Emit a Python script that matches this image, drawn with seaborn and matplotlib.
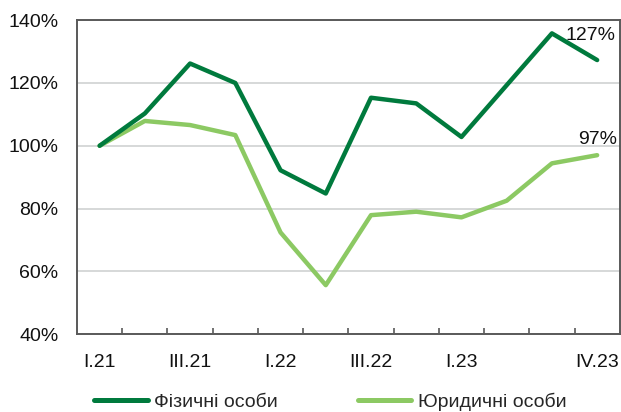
import numpy as np
import pandas as pd
import matplotlib
matplotlib.use("Agg")
import matplotlib.pyplot as plt
import seaborn as sns
from matplotlib.ticker import FixedLocator, PercentFormatter

# quarters I.21 .. IV.23
quarters = ["I.21", "II.21", "III.21", "IV.21", "I.22", "II.22",
            "III.22", "IV.22", "I.23", "II.23", "III.23", "IV.23"]
individuals = [100, 110.3, 126.2, 120.0, 92.2, 84.8, 115.3, 113.5, 102.8, 119.3, 135.8, 127.3]
legal_entities = [100, 107.9, 106.6, 103.4, 72.4, 55.6, 77.9, 79.0, 77.2, 82.5, 94.4, 97.0]
series_names = ["Фізичні особи", "Юридичні особи"]
shown_labels = ["I.21", "III.21", "I.22", "III.22", "I.23", "IV.23"]

df = pd.DataFrame({
    "quarter": quarters * 2,
    "pos": list(range(len(quarters))) * 2,
    "value": individuals + legal_entities,
    "series": [series_names[0]] * len(quarters) + [series_names[1]] * len(quarters),
})

sns.set_theme(style="white")
plt.rcParams["font.family"] = ["Liberation Sans", "DejaVu Sans"]

fig = plt.figure(figsize=(6.21, 4.12), dpi=100)
ax = fig.add_axes([0.124, 0.189, 0.874, 0.762])

palette = {series_names[0]: "#007A3D", series_names[1]: "#8CC963"}
sns.lineplot(data=df, x="pos", y="value", hue="series", palette=palette,
             linewidth=3.2, ax=ax, legend=False)
# keep the dark line on top
ax.lines[0].set_zorder(3)

ax.set_xlim(-0.5, len(quarters) - 0.5)
ax.set_ylim(40, 140)
ax.set_xlabel("")
ax.set_ylabel("")

# y axis
ax.set_yticks(np.arange(40, 141, 20))
ax.yaxis.set_major_formatter(PercentFormatter(decimals=0))
ax.grid(axis="y", color="#D3D6D5", linewidth=1.3)
ax.tick_params(axis="y", length=0, pad=13.5, labelsize=14, labelcolor="#111111")

# x axis: labels on selected quarters, tick marks on category boundaries
ax.set_xticks([quarters.index(q) for q in shown_labels])
ax.set_xticklabels(shown_labels)
ax.xaxis.set_minor_locator(FixedLocator(np.arange(0.5, len(quarters) - 1, 1)))
ax.tick_params(axis="x", which="major", length=0, pad=14, labelsize=14, labelcolor="#111111")
ax.tick_params(axis="x", which="minor", direction="in", length=4.5, width=1.2,
               color="#595959", bottom=True)

for sp in ax.spines.values():
    sp.set_visible(True)
    sp.set_color("#595959")
    sp.set_linewidth(1.4)

# end labels
ax.annotate(f"{individuals[-1]:.0f}%", (len(quarters) - 1, individuals[-1]),
            xytext=(-5, 18), textcoords="offset points", ha="center", va="center",
            fontsize=14, color="#111111", annotation_clip=False)
ax.annotate(f"{legal_entities[-1]:.0f}%", (len(quarters) - 1, legal_entities[-1]),
            xytext=(0, 11), textcoords="offset points", ha="center", va="center",
            fontsize=14, color="#111111", annotation_clip=False)

handles = [plt.Line2D([], [], color=palette[n], linewidth=3.6) for n in series_names]
fig.legend(handles, series_names, loc="center", bbox_to_anchor=(0.532, 0.025),
           ncol=2, frameon=False, fontsize=14, handlelength=2.75,
           handletextpad=0.35, columnspacing=4.1)

fig.savefig("out.png", dpi=100)
